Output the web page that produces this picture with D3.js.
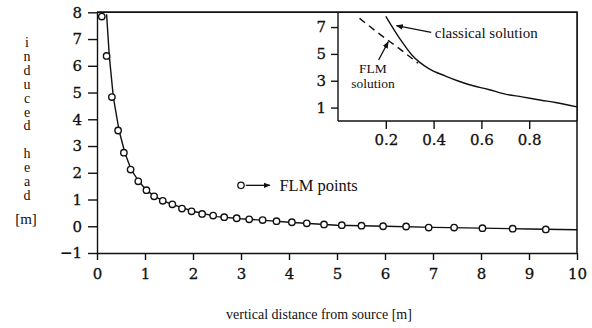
<!DOCTYPE html>
<html>
<head>
<meta charset="utf-8">
<script src="https://cdn.jsdelivr.net/npm/d3@7"></script>
<style>
  body { margin: 0; background: #fff; }
  svg { display: block; }
  text { fill: #111; }
</style>
</head>
<body>
<div id="chart"></div>
<script>
// FLM points (main plot)
const flmX = [0.10, 0.20, 0.31, 0.44, 0.56, 0.70, 0.86, 1.03, 1.19, 1.37, 1.57,
              1.77, 1.97, 2.19, 2.42, 2.65, 2.91, 3.17, 3.45, 3.74, 4.06, 4.37,
              4.73, 5.10, 5.51, 5.96, 6.44, 6.91, 7.44, 8.03, 8.66, 9.35];
const flmY = [7.84, 6.37, 4.83, 3.58, 2.75, 2.12, 1.68, 1.35, 1.12, 0.95, 0.82,
              0.66, 0.56, 0.46, 0.40, 0.34, 0.30, 0.26, 0.23, 0.19, 0.15, 0.11,
              0.07, 0.04, 0.02, 0.00, -0.01, -0.05, -0.05, -0.07, -0.09, -0.12];

// classical solution curve (main plot)
const lineX = [0.20, 0.256, 0.34, 0.46, 0.58, 0.71, 0.87, 1.03, 1.2, 1.4, 1.6, 2.0,
               2.5, 3.0, 3.5, 4.0, 5.0, 6.0, 7.0, 8.0, 9.0, 10.0];
const lineY = [7.93, 6.37, 4.83, 3.58, 2.75, 2.12, 1.68, 1.35, 1.12, 0.93, 0.8, 0.56,
               0.36, 0.28, 0.22, 0.15, 0.04, 0.0, -0.04, -0.07, -0.10, -0.13];

// inset: classical solution and FLM solution
const inClassX = [0.2, 0.26, 0.31, 0.38, 0.45, 0.5, 0.55, 0.63, 0.7, 0.77, 0.85, 0.91, 1.0];
const inClassY = [7.8, 6.1, 4.9, 3.9, 3.35, 3.0, 2.7, 2.35, 2.0, 1.8, 1.55, 1.38, 1.05];
const inFlmX = [0.09, 0.18, 0.265, 0.335];
const inFlmY = [7.65, 6.4, 5.28, 4.3];

const xTicks = [0, 1, 2, 3, 4, 5, 6, 7, 8, 9, 10];
const yTicks = [-1, 0, 1, 2, 3, 4, 5, 6, 7, 8];
const inXTicks = [0.2, 0.4, 0.6, 0.8];
const inYTicks = [1, 3, 5, 7];
const yLabelChars = ["i", "n", "d", "u", "c", "e", "d", "", "h", "e", "a", "d"];

const WIDTH = 592, HEIGHT = 328;
const numFont = "'DejaVu Serif', serif";
const txtFont = "'Liberation Serif', 'Times New Roman', serif";
const ink = "#111";

let svg = d3.select("#chart").append("svg")
    .attr("width", WIDTH)
    .attr("height", HEIGHT);

let x = d3.scaleLinear().domain([0, 10]).range([97, 577]);
let y = d3.scaleLinear().domain([-1, 8]).range([253, 12.3]);

let xi = d3.scaleLinear().domain([0, 1]).range([338, 577]);
let yi = d3.scaleLinear().domain([0, 8.1]).range([121, 12.3]);

svg.append("defs").append("marker")
    .attr("id", "arr")
    .attr("viewBox", "0 0 10 10")
    .attr("refX", 9).attr("refY", 5)
    .attr("markerWidth", 7).attr("markerHeight", 7)
    .attr("markerUnits", "userSpaceOnUse")
    .attr("orient", "auto")
    .append("path")
    .attr("d", "M0,1 L10,5 L0,9 Z")
    .attr("fill", ink);

// main axes
let xAxis = d3.axisBottom(x).tickValues(xTicks).tickSize(7).tickSizeOuter(0).tickPadding(8);
let yAxis = d3.axisLeft(y).tickValues(yTicks).tickSize(9).tickSizeOuter(0).tickPadding(6)
    .tickFormat(d => d < 0 ? "\u2212" + Math.abs(d) : d);

let gx = svg.append("g").attr("transform", `translate(0,${y(-1)})`).call(xAxis);
let gy = svg.append("g").attr("transform", `translate(${x(0)},0)`).call(yAxis);

[gx, gy].forEach(g => {
    g.selectAll("path, line").attr("stroke", ink).attr("stroke-width", 1.4);
    g.selectAll("text").attr("font-family", numFont).attr("font-size", 15).attr("fill", ink)
        .attr("stroke", ink).attr("stroke-width", 0.3);
});

// frame top + right
svg.append("path")
    .attr("d", `M${x(0)},${y(8)} H${x(10)} V${y(-1)}`)
    .attr("fill", "none").attr("stroke", ink).attr("stroke-width", 1.5);

// classical curve
let line = d3.line().x(d => x(d[0])).y(d => y(d[1]));
svg.append("path")
    .datum(d3.zip(lineX, lineY))
    .attr("d", line)
    .attr("fill", "none").attr("stroke", ink).attr("stroke-width", 1.4);

// FLM points
svg.append("g").selectAll("circle")
    .data(d3.zip(flmX, flmY))
    .join("circle")
    .attr("cx", d => x(d[0]))
    .attr("cy", d => y(d[1]))
    .attr("r", 3.2)
    .attr("fill", "#fff")
    .attr("stroke", ink).attr("stroke-width", 1.4);

// legend "FLM points"
svg.append("circle")
    .attr("cx", x(3.0)).attr("cy", y(1.53))
    .attr("r", 3.2).attr("fill", "#fff").attr("stroke", ink).attr("stroke-width", 1.3);
svg.append("line")
    .attr("x1", x(3.1)).attr("y1", y(1.53))
    .attr("x2", x(3.6)).attr("y2", y(1.53))
    .attr("stroke", ink).attr("stroke-width", 1.3)
    .attr("marker-end", "url(#arr)");
svg.append("text")
    .attr("x", x(3.8)).attr("y", y(1.53))
    .attr("dy", "0.35em")
    .attr("font-family", txtFont).attr("font-size", 16.5)
    .text("FLM points");

// axis titles
svg.append("text")
    .attr("x", 319).attr("y", 319)
    .attr("text-anchor", "middle")
    .attr("font-family", txtFont).attr("font-size", 14)
    .text("vertical distance from source  [m]");

svg.append("g").selectAll("text")
    .data(yLabelChars)
    .join("text")
    .attr("x", 27)
    .attr("y", (d, i) => 47 + i * 13.9)
    .attr("text-anchor", "middle")
    .attr("font-family", txtFont).attr("font-size", 14)
    .text(d => d);
svg.append("text")
    .attr("x", 26).attr("y", 224)
    .attr("text-anchor", "middle")
    .attr("font-family", txtFont).attr("font-size", 15)
    .text("[m]");

// inset
svg.append("rect")
    .attr("x", xi(0)).attr("y", yi(8.1))
    .attr("width", xi(1) - xi(0)).attr("height", yi(0) - yi(8.1))
    .attr("fill", "#fff").attr("stroke", "none");

let ixAxis = d3.axisBottom(xi).tickValues(inXTicks).tickSize(8).tickSizeOuter(0).tickPadding(5)
    .tickFormat(d3.format(".1f"));
let iyAxis = d3.axisLeft(yi).tickValues(inYTicks).tickSize(7).tickSizeOuter(0).tickPadding(5);

let gix = svg.append("g").attr("transform", `translate(0,${yi(0)})`).call(ixAxis);
let giy = svg.append("g").attr("transform", `translate(${xi(0)},0)`).call(iyAxis);
[gix, giy].forEach(g => {
    g.selectAll("path, line").attr("stroke", ink).attr("stroke-width", 1.4);
    g.selectAll("text").attr("font-family", numFont).attr("font-size", 15).attr("fill", ink)
        .attr("stroke", ink).attr("stroke-width", 0.3);
});
gix.select(".domain").attr("d", `M${xi(0)},0 H${xi(1)}`);
giy.select(".domain").attr("d", `M0,${yi(0)} V${yi(8.1)}`);

// redraw shared frame over inset
svg.append("path")
    .attr("d", `M${x(0)},${y(8)} H${x(10)} V${yi(0)}`)
    .attr("fill", "none").attr("stroke", ink).attr("stroke-width", 1.5);

let iline = d3.line().x(d => xi(d[0])).y(d => yi(d[1])).curve(d3.curveMonotoneX);
svg.append("path")
    .datum(d3.zip(inClassX, inClassY))
    .attr("d", iline)
    .attr("fill", "none").attr("stroke", ink).attr("stroke-width", 1.4);
svg.append("path")
    .datum(d3.zip(inFlmX, inFlmY))
    .attr("d", iline)
    .attr("fill", "none").attr("stroke", ink).attr("stroke-width", 1.4)
    .attr("stroke-dasharray", "7,5");

// inset annotations
svg.append("line")
    .attr("x1", xi(0.39)).attr("y1", yi(6.6))
    .attr("x2", xi(0.245)).attr("y2", yi(7.1))
    .attr("stroke", ink).attr("stroke-width", 1.3)
    .attr("marker-end", "url(#arr)");
svg.append("text")
    .attr("x", xi(0.405)).attr("y", yi(6.6))
    .attr("dy", "0.35em")
    .attr("font-family", txtFont).attr("font-size", 15)
    .text("classical solution");

svg.append("line")
    .attr("x1", xi(0.17)).attr("y1", yi(4.55))
    .attr("x2", xi(0.21)).attr("y2", yi(5.9))
    .attr("stroke", ink).attr("stroke-width", 1.3)
    .attr("marker-end", "url(#arr)");
svg.append("text")
    .attr("x", xi(0.146)).attr("y", yi(3.93))
    .attr("dy", "0.35em")
    .attr("text-anchor", "middle")
    .attr("font-family", txtFont).attr("font-size", 13.5)
    .text("FLM");
svg.append("text")
    .attr("x", xi(0.146)).attr("y", yi(2.78))
    .attr("dy", "0.35em")
    .attr("text-anchor", "middle")
    .attr("font-family", txtFont).attr("font-size", 13.5)
    .text("solution");
</script>
</body>
</html>
